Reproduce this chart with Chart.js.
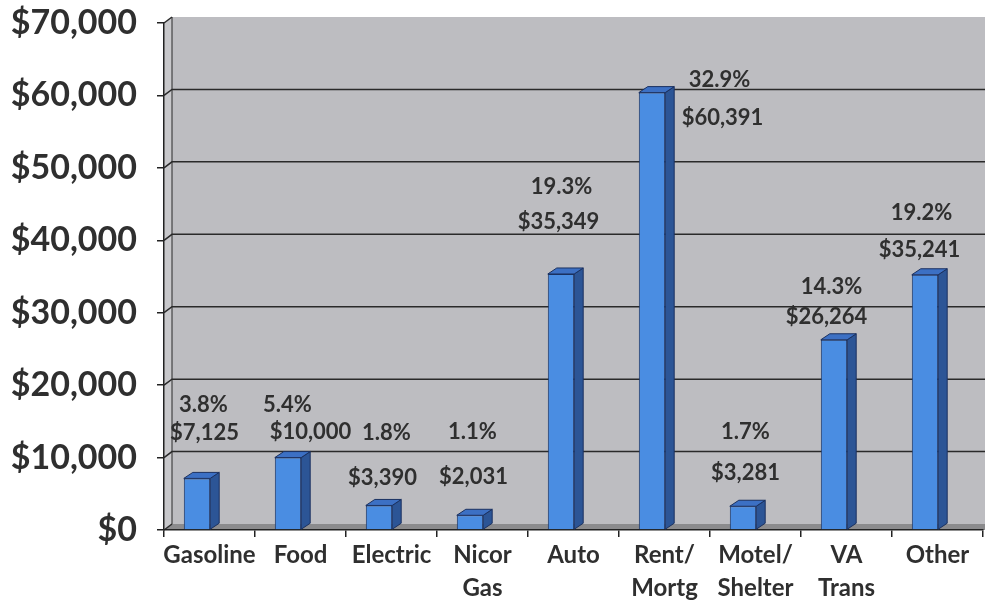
<!DOCTYPE html>
<html>
<head>
<meta charset="utf-8">
<script src="https://cdn.jsdelivr.net/npm/chart.js@4.4.1/dist/chart.umd.min.js"></script>
<style>
  html, body { margin: 0; padding: 0; background: #fff; }
</style>
</head>
<body>
<canvas id="barChart" width="985" height="605"></canvas>
<script>
// data
var categories = [['Gasoline'], ['Food'], ['Electric'], ['Nicor', 'Gas'], ['Auto'], ['Rent/', 'Mortg'], ['Motel/', 'Shelter'], ['VA', 'Trans'], ['Other']];
var amounts = [7125, 10000, 3390, 2031, 35349, 60391, 3281, 26264, 35241];
var shares = [3.8, 5.4, 1.8, 1.1, 19.3, 32.9, 1.7, 14.3, 19.2];
var yTicks = [0, 10000, 20000, 30000, 40000, 50000, 60000, 70000];

// label nudges (px): [pct dx, pct dy, amount dx, amount dy] from bar top / category centre
var labelNudge = [[-6, -73, -5, -45], [-13, -53, 10, -26], [-5, -73, -9, -28], [-10, -83, -9, -38],
                  [-12, -87, -15, -52], [55, -13, 58, 25], [-10, -74, -10, -33], [-15, -53, -20, -23], [-16, -62, -18, -25]];

var WALL_X = 8, WALL_Y = -6;     // depth of the back wall
var BAR_X = 9, BAR_Y = -6;       // depth of the bars
var BAR_SHIFT = -12.5;           // bars sit left of the category centre
var TEXT = '#2f2f2f';

function money(v) { return '$' + v.toLocaleString('en-US'); }

function poly(ctx, pts, fill, stroke) {
    ctx.beginPath();
    ctx.moveTo(pts[0][0], pts[0][1]);
    for (var i = 1; i < pts.length; i++) ctx.lineTo(pts[i][0], pts[i][1]);
    ctx.closePath();
    if (fill) { ctx.fillStyle = fill; ctx.fill(); }
    if (stroke) { ctx.strokeStyle = stroke; ctx.lineWidth = 1; ctx.stroke(); }
}

var walls = {
    id: 'walls',
    beforeDraw: function (chart) {
        var ctx = chart.ctx, a = chart.chartArea, y = chart.scales.y, W = chart.width;
        ctx.save();
        ctx.fillStyle = '#fff';
        ctx.fillRect(0, 0, W, chart.height);
        // back wall
        ctx.fillStyle = '#bdbdc1';
        ctx.fillRect(a.left + WALL_X, a.top + WALL_Y, W - a.left - WALL_X, a.bottom - a.top);
        // side wall
        poly(ctx, [[a.left, a.top], [a.left + WALL_X, a.top + WALL_Y], [a.left + WALL_X, a.bottom + WALL_Y], [a.left, a.bottom]], '#c8c8cb');
        // floor
        poly(ctx, [[a.left, a.bottom], [a.left + WALL_X, a.bottom + WALL_Y], [W, a.bottom + WALL_Y], [W, a.bottom]], '#8b8b8d');
        // gridlines on the back wall
        ctx.strokeStyle = '#2a2a2a';
        ctx.lineWidth = 1.5;
        yTicks.forEach(function (v) {
            var py = y.getPixelForValue(v);
            ctx.beginPath();
            ctx.moveTo(a.left, py);
            ctx.lineTo(a.left + WALL_X, py + WALL_Y);
            if (v > 0 && v < 70000) ctx.lineTo(W, py + WALL_Y);
            ctx.stroke();
        });
        ctx.beginPath();
        ctx.moveTo(a.left + WALL_X, a.top + WALL_Y);
        ctx.lineTo(a.left + WALL_X, a.bottom + WALL_Y);
        ctx.lineWidth = 1;
        ctx.stroke();
        ctx.restore();
    }
};

var bars3d = {
    id: 'bars3d',
    beforeDatasetDraw: function (chart) {
        chart.ctx.save();
        chart.ctx.translate(BAR_SHIFT, 0);
    },
    afterDatasetDraw: function (chart, args) {
        var ctx = chart.ctx;
        args.meta.data.forEach(function (bar) {
            var p = bar.getProps(['x', 'y', 'base', 'width'], true);
            var l = p.x - p.width / 2, r = p.x + p.width / 2, t = p.y, b = p.base;
            poly(ctx, [[r, t], [r + BAR_X, t + BAR_Y], [r + BAR_X, b + BAR_Y], [r, b]], '#2c5596', '#1b3160');
            poly(ctx, [[l, t], [l + BAR_X, t + BAR_Y], [r + BAR_X, t + BAR_Y], [r, t]], '#3c70c4', '#1b3160');
        });
        ctx.restore();
    }
};

var valueLabels = {
    id: 'valueLabels',
    afterDatasetsDraw: function (chart) {
        var ctx = chart.ctx, meta = chart.getDatasetMeta(0);
        ctx.save();
        ctx.font = 'bold 22px Lato';
        ctx.fillStyle = TEXT;
        ctx.textAlign = 'center';
        ctx.textBaseline = 'middle';
        meta.data.forEach(function (bar, i) {
            var n = labelNudge[i];
            ctx.fillText(shares[i].toFixed(1) + '%', bar.x + n[0], bar.y + n[1]);
            ctx.fillText(money(amounts[i]), bar.x + n[2], bar.y + n[3]);
        });
        ctx.restore();
    }
};

new Chart(document.getElementById('barChart'), {
    type: 'bar',
    data: {
        labels: categories,
        datasets: [{
            data: amounts,
            backgroundColor: '#4a8de2',
            borderColor: '#1b3160',
            borderWidth: 1,
            categoryPercentage: 1,
            barPercentage: 0.29
        }]
    },
    options: {
        responsive: false,
        animation: false,
        devicePixelRatio: 1,
        layout: { padding: { top: 23, right: 2, left: 0, bottom: 0 } },
        plugins: { legend: { display: false }, tooltip: { enabled: false } },
        scales: {
            y: {
                min: 0,
                max: 70000,
                afterBuildTicks: function (s) { s.ticks = yTicks.map(function (v) { return { value: v }; }); },
                afterFit: function (s) { s.width = 164; s.paddingTop = 0; s.paddingBottom = 0; },
                ticks: {
                    callback: function (v) { return money(v); },
                    font: { family: 'Lato', weight: 'bold', size: 34 },
                    color: TEXT,
                    padding: 20
                },
                grid: { drawOnChartArea: false, tickLength: 7, color: '#222', lineWidth: 1.5 },
                border: { display: true, color: '#222', width: 1.5 }
            },
            x: {
                afterFit: function (s) { s.height = 75; s.paddingLeft = 0; s.paddingRight = 0; },
                ticks: {
                    font: { family: 'Lato', weight: 'bold', size: 24, lineHeight: 1.4 },
                    color: TEXT,
                    padding: 1,
                    maxRotation: 0,
                    autoSkip: false
                },
                grid: { drawOnChartArea: false, tickLength: 7, color: '#222', lineWidth: 1.5 },
                border: { display: true, color: '#222', width: 1.5 }
            }
        }
    },
    plugins: [walls, bars3d, valueLabels]
});
</script>
</body>
</html>
